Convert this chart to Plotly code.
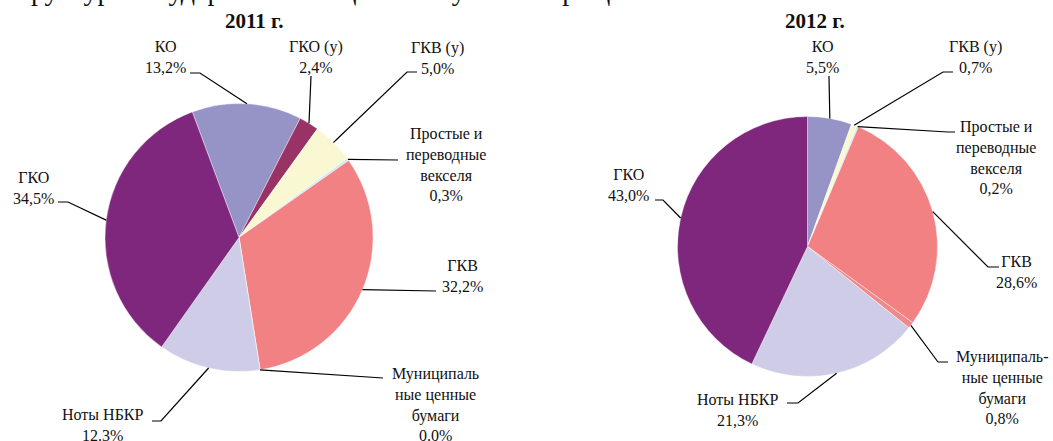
import math
import plotly.graph_objects as go

W, H = 1053, 441

# ---------------- data ----------------
cats_2011 = ["КО", "ГКО (у)", "ГКВ (у)", "Простые и переводные векселя",
             "ГКВ", "Муниципальные ценные бумаги", "Ноты НБКР", "ГКО"]
vals_2011 = [13.2, 2.4, 5.0, 0.3, 32.2, 0.0, 12.3, 34.5]
labels_2011 = ["КО<br>13,2%", "ГКО (у)<br>2,4%", "ГКВ (у)<br>5,0%",
               "Простые и<br>переводные<br>векселя<br>0,3%", "ГКВ<br>32,2%",
               "Муниципаль<br>ные ценные<br>бумаги<br>0.0%", "Ноты НБКР<br>12.3%",
               "ГКО<br>34,5%"]

cats_2012 = ["КО", "ГКВ (у)", "Простые и переводные векселя", "ГКВ",
             "Муниципальные ценные бумаги", "Ноты НБКР", "ГКО"]
vals_2012 = [5.5, 0.7, 0.2, 28.6, 0.8, 21.3, 43.0]
labels_2012 = ["КО<br>5,5%", "ГКВ (у)<br>0,7%",
               "Простые и<br>переводные<br>векселя<br>0,2%", "ГКВ<br>28,6%",
               "Муниципаль-<br>ные ценные<br>бумаги<br>0,8%", "Ноты НБКР<br>21,3%",
               "ГКО<br>43,0%"]

titles = ["2011 г.", "2012 г."]
header = "Структура государственных ценных бумаг в обращении"

# ---------------- styles ----------------
colors = {
    "КО": "#9694C7",
    "ГКО (у)": "#993366",
    "ГКВ (у)": "#FAF8D2",
    "Простые и переводные векселя": "#CDE9F2",
    "ГКВ": "#F28183",
    "Муниципальные ценные бумаги": "#F08A8A",
    "Ноты НБКР": "#CFCCE7",
    "ГКО": "#7E277C",
}

FONT = "Liberation Serif"

# pie geometry (pixels): center x, center y, radius, rotation
pies = [
    dict(cx=239.0, cy=237.5, r=134.0, rot=-20.4),
    dict(cx=807.5, cy=246.5, r=130.0, rot=0.0),
]

# label block centres (px)
label_pos_2011 = [(165, 57), (316, 57), (437, 58), (446, 164), (462, 276),
                  (435, 404), (103, 425), (33, 188)]
label_pos_2012 = [(822, 57), (975, 57), (996, 157), (1016, 272), (1002, 387),
                  (738, 410), (628, 185)]

# leader-line elbow points (px), from pie edge towards label
elbows_2011 = [[(200, 73), (190, 73)], [(311, 76)], [(407, 72), (417, 72)],
               [(398, 160)], [(436, 291)], [(383, 378)],
               [(161, 421), (152, 421)], [(68, 202), (58, 202)]]
elbows_2012 = [[(829, 76)], [(943, 72), (953, 72)], [(948, 132), (955, 132)],
               [(988, 267), (999, 267)], [(938, 362), (948, 362)],
               [(798, 403), (787, 403)], [(663, 200), (655, 200)]]

title_pos = [(254, 21), (815, 21)]


def px(x):
    return x / W


def py(y):
    return 1 - y / H


fig = go.Figure()
shapes = []
annotations = []

sets = [
    (cats_2011, vals_2011, labels_2011, label_pos_2011, elbows_2011),
    (cats_2012, vals_2012, labels_2012, label_pos_2012, elbows_2012),
]

for geo, (cats, vals, labs, lpos, elbs) in zip(pies, sets):
    cx, cy, r = geo["cx"], geo["cy"], geo["r"]
    fig.add_trace(go.Pie(
        labels=cats, values=vals, sort=False, direction="clockwise",
        rotation=geo["rot"], textinfo="none", hoverinfo="label+percent",
        marker=dict(colors=[colors[c] for c in cats],
                    line=dict(color="white", width=0.4)),
        domain=dict(x=[px(cx - r), px(cx + r)], y=[py(cy + r), py(cy - r)]),
        showlegend=False,
    ))
    total = sum(vals)
    cum = 0.0
    for v, lab, (lx, ly), elb in zip(vals, labs, lpos, elbs):
        mid = geo["rot"] + 360.0 * (cum + v / 2.0) / total
        cum += v
        a = math.radians(mid)
        ex, ey = cx + r * math.sin(a), cy - r * math.cos(a)
        pts = [(ex, ey)] + list(elb)
        path = "M {:.5f} {:.5f}".format(px(pts[0][0]), py(pts[0][1]))
        for (x, y) in pts[1:]:
            path += " L {:.5f} {:.5f}".format(px(x), py(y))
        shapes.append(dict(type="path", path=path, xref="paper", yref="paper",
                           line=dict(color="black", width=1.2)))
        annotations.append(dict(text=lab, x=px(lx), y=py(ly), xref="paper",
                                yref="paper", xanchor="center", yanchor="middle",
                                showarrow=False,
                                font=dict(family=FONT, size=16, color="#111111")))

for t, (tx, ty) in zip(titles, title_pos):
    annotations.append(dict(text="<b>" + t + "</b>", x=px(tx), y=py(ty),
                            xref="paper", yref="paper", xanchor="center",
                            yanchor="middle", showarrow=False,
                            font=dict(family=FONT, size=21, color="#111111")))

annotations.append(dict(text=header, x=px(-2), y=py(8), xref="paper",
                        yref="paper", xanchor="left", yanchor="bottom",
                        showarrow=False,
                        font=dict(family=FONT, size=28, color="#111111")))

fig.update_layout(
    width=W, height=H, margin=dict(l=0, r=0, t=0, b=0),
    paper_bgcolor="white", plot_bgcolor="white",
    shapes=shapes, annotations=annotations,
)

fig.write_html(
    "out.html",
    config={"displayModeBar": False},
    post_script="document.body.style.margin='0';"
                "document.body.style.overflow='hidden';",
)
